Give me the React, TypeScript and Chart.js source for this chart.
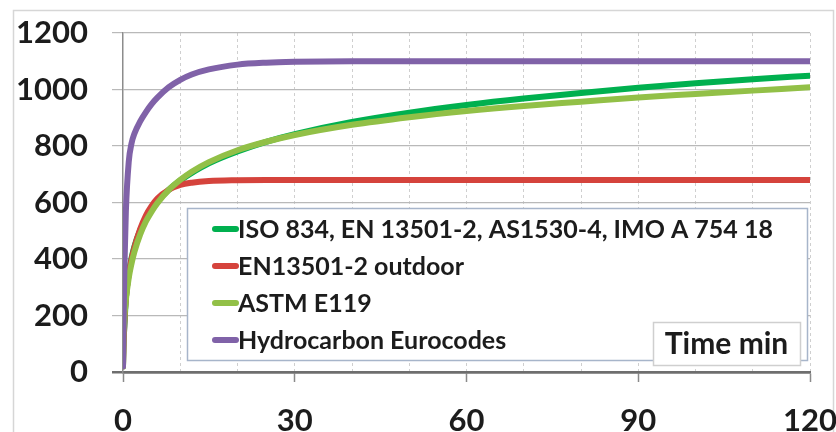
import React, { useEffect, useRef } from "react";
import { Chart, registerables } from "chart.js";

Chart.register(...registerables);

const TIME = [0, 0.1, 0.25, 0.5, 1, 1.5, 2, 3, 4, 5, 6, 8, 10, 12, 15, 20, 25, 30, 40, 50, 60, 70, 80, 90, 100, 110, 120];
const ISO_834 = [20, 108, 165, 261, 349, 404, 445, 502, 544, 576, 603, 645, 678, 705, 739, 781, 815, 842, 885, 918, 945, 968, 988, 1006, 1022, 1036, 1049];
const EN_OUTDOOR = [20, 100, 182, 263, 346, 399, 441, 506, 554, 588, 614, 645, 662, 670, 676, 679, 680, 680, 680, 680, 680, 680, 680, 680, 680, 680, 680];
const ASTM_E119 = [20, 135, 194, 255, 333, 385, 426, 487, 533, 568, 598, 645, 680, 709, 743, 785, 815, 839, 875, 902, 924, 942, 957, 972, 984, 996, 1008];
const HYDROCARBON = [20, 187, 373, 568, 743, 810, 844, 887, 920, 948, 971, 1008, 1034, 1053, 1071, 1088, 1095, 1098, 1100, 1100, 1100, 1100, 1100, 1100, 1100, 1100, 1100];

const SERIES_LABELS = [
  "ISO 834, EN 13501-2, AS1530-4, IMO A 754 18",
  "EN13501-2 outdoor",
  "ASTM E119",
  "Hydrocarbon Eurocodes",
];
const SERIES_COLORS = ["#00B04F", "#D5433C", "#92C047", "#8062A8"];
const X_TICK_LABELS = [0, 30, 60, 90, 120];
const Y_TICKS = [0, 200, 400, 600, 800, 1000, 1200];
const AXIS_TITLE = "Time min";

const FONT = "Lato, 'Open Sans', 'Liberation Sans', sans-serif";
const TEXT_COLOR = "#1c1c1c";

const decorPlugin = {
  id: "decor",
  beforeDraw(chart: any) {
    const ctx = chart.ctx;
    ctx.save();
    ctx.fillStyle = "#ffffff";
    ctx.fillRect(0, 0, chart.width, chart.height);
    ctx.strokeStyle = "#d6d6d6";
    ctx.lineWidth = 1.5;
    ctx.strokeRect(13.5, 10.5, 820, 500);
    ctx.restore();
  },
  afterDatasetsDraw(chart: any) {
    const ctx = chart.ctx;
    ctx.save();
    // legend box
    const lx = 187, ly = 208, lw = 620, lh = 152;
    ctx.fillStyle = "#ffffff";
    ctx.fillRect(lx, ly, lw, lh);
    ctx.strokeStyle = "#a7b5ca";
    ctx.lineWidth = 1.5;
    ctx.strokeRect(lx + 0.5, ly + 0.5, lw, lh);
    const datasets = chart.data.datasets;
    ctx.font = `bold 25px ${FONT}`;
    ctx.textBaseline = "middle";
    ctx.textAlign = "left";
    for (let i = 0; i < datasets.length; i++) {
      const y = 229 + i * 37;
      ctx.strokeStyle = datasets[i].borderColor;
      ctx.lineWidth = 6;
      ctx.lineCap = "round";
      ctx.beginPath();
      ctx.moveTo(215, y);
      ctx.lineTo(236, y);
      ctx.stroke();
      ctx.fillStyle = TEXT_COLOR;
      ctx.fillText(datasets[i].label, 238, y + 1);
    }
    // axis title box
    const tx = 653, ty = 322, tw = 147, th = 43;
    ctx.fillStyle = "#ffffff";
    ctx.fillRect(tx, ty, tw, th);
    ctx.strokeStyle = "#cfcfcf";
    ctx.lineWidth = 1.5;
    ctx.strokeRect(tx + 0.5, ty + 0.5, tw, th);
    ctx.fillStyle = TEXT_COLOR;
    ctx.font = `bold 30px ${FONT}`;
    ctx.textAlign = "center";
    ctx.fillText(AXIS_TITLE, tx + tw / 2, ty + th / 2 + 1);
    ctx.restore();
  },
};

export default function App() {
  const canvasRef = useRef<HTMLCanvasElement | null>(null);

  useEffect(() => {
    const canvas = canvasRef.current;
    if (!canvas) return;
    const seriesValues = [ISO_834, EN_OUTDOOR, ASTM_E119, HYDROCARBON];
    const datasets = seriesValues.map((vals, i) => ({
      label: SERIES_LABELS[i],
      data: TIME.map((t, j) => ({ x: t, y: vals[j] })),
      borderColor: SERIES_COLORS[i],
      backgroundColor: SERIES_COLORS[i],
      borderWidth: 6,
      borderCapStyle: "round" as const,
      borderJoinStyle: "round" as const,
      pointRadius: 0,
      cubicInterpolationMode: "monotone" as const,
      fill: false,
      order: seriesValues.length - 1 - i,
    }));

    const chart = new Chart(canvas, {
      type: "line",
      data: { datasets },
      options: {
        animation: false,
        responsive: false,
        devicePixelRatio: 1,
        layout: { padding: { left: 0, top: 33, right: 26, bottom: 0 } },
        plugins: {
          legend: { display: false },
          tooltip: { enabled: false },
          title: { display: false },
        },
        scales: {
          x: {
            type: "linear",
            min: 0,
            max: 120,
            afterFit: (s: any) => {
              s.height = 60;
              s.paddingLeft = 0;
              s.paddingRight = 0;
            },
            afterBuildTicks: (s: any) => {
              const t = [];
              for (let v = 0; v <= 120; v += 10) t.push({ value: v });
              s.ticks = t;
            },
            ticks: {
              autoSkip: false,
              maxRotation: 0,
              padding: 20,
              color: TEXT_COLOR,
              font: { family: FONT, size: 31, weight: "bold" },
              callback: (v: any) => (X_TICK_LABELS.includes(Number(v)) ? String(v) : ""),
            },
            grid: {
              color: (c: any) => (c.tick && c.tick.value === 0 ? "rgba(0,0,0,0)" : "#cfcfcf"),
              lineWidth: 1,
              tickLength: 10,
              tickColor: (c: any) =>
                c.tick && X_TICK_LABELS.includes(c.tick.value) ? "#8a8a8a" : "rgba(0,0,0,0)",
              tickWidth: 1.5,
            },
            border: { display: true, color: "#6e6e6e", width: 2.5, dash: [3, 3] },
          },
          y: {
            type: "linear",
            min: 0,
            max: 1200,
            afterFit: (s: any) => {
              s.width = 123;
              s.paddingTop = 0;
              s.paddingBottom = 0;
            },
            afterBuildTicks: (s: any) => {
              s.ticks = Y_TICKS.map((v) => ({ value: v }));
            },
            ticks: {
              padding: 24,
              color: TEXT_COLOR,
              font: { family: FONT, size: 31, weight: "bold" },
              callback: (v: any) => String(v),
            },
            grid: {
              color: (c: any) => (c.tick && c.tick.value === 0 ? "#6e6e6e" : "#b9b9b9"),
              lineWidth: (c: any) => (c.tick && c.tick.value === 0 ? 2.5 : 1.2),
              tickLength: 11,
            },
            border: { display: true, color: "#8c8c8c", width: 1.5 },
          },
        },
      },
      plugins: [decorPlugin],
    });
    return () => chart.destroy();
  }, []);

  return (
    <div style={{ position: "absolute", left: 0, top: 0, width: 836, height: 432, background: "#fff" }}>
      <canvas ref={canvasRef} width={836} height={432} style={{ display: "block" }} />
    </div>
  );
}
